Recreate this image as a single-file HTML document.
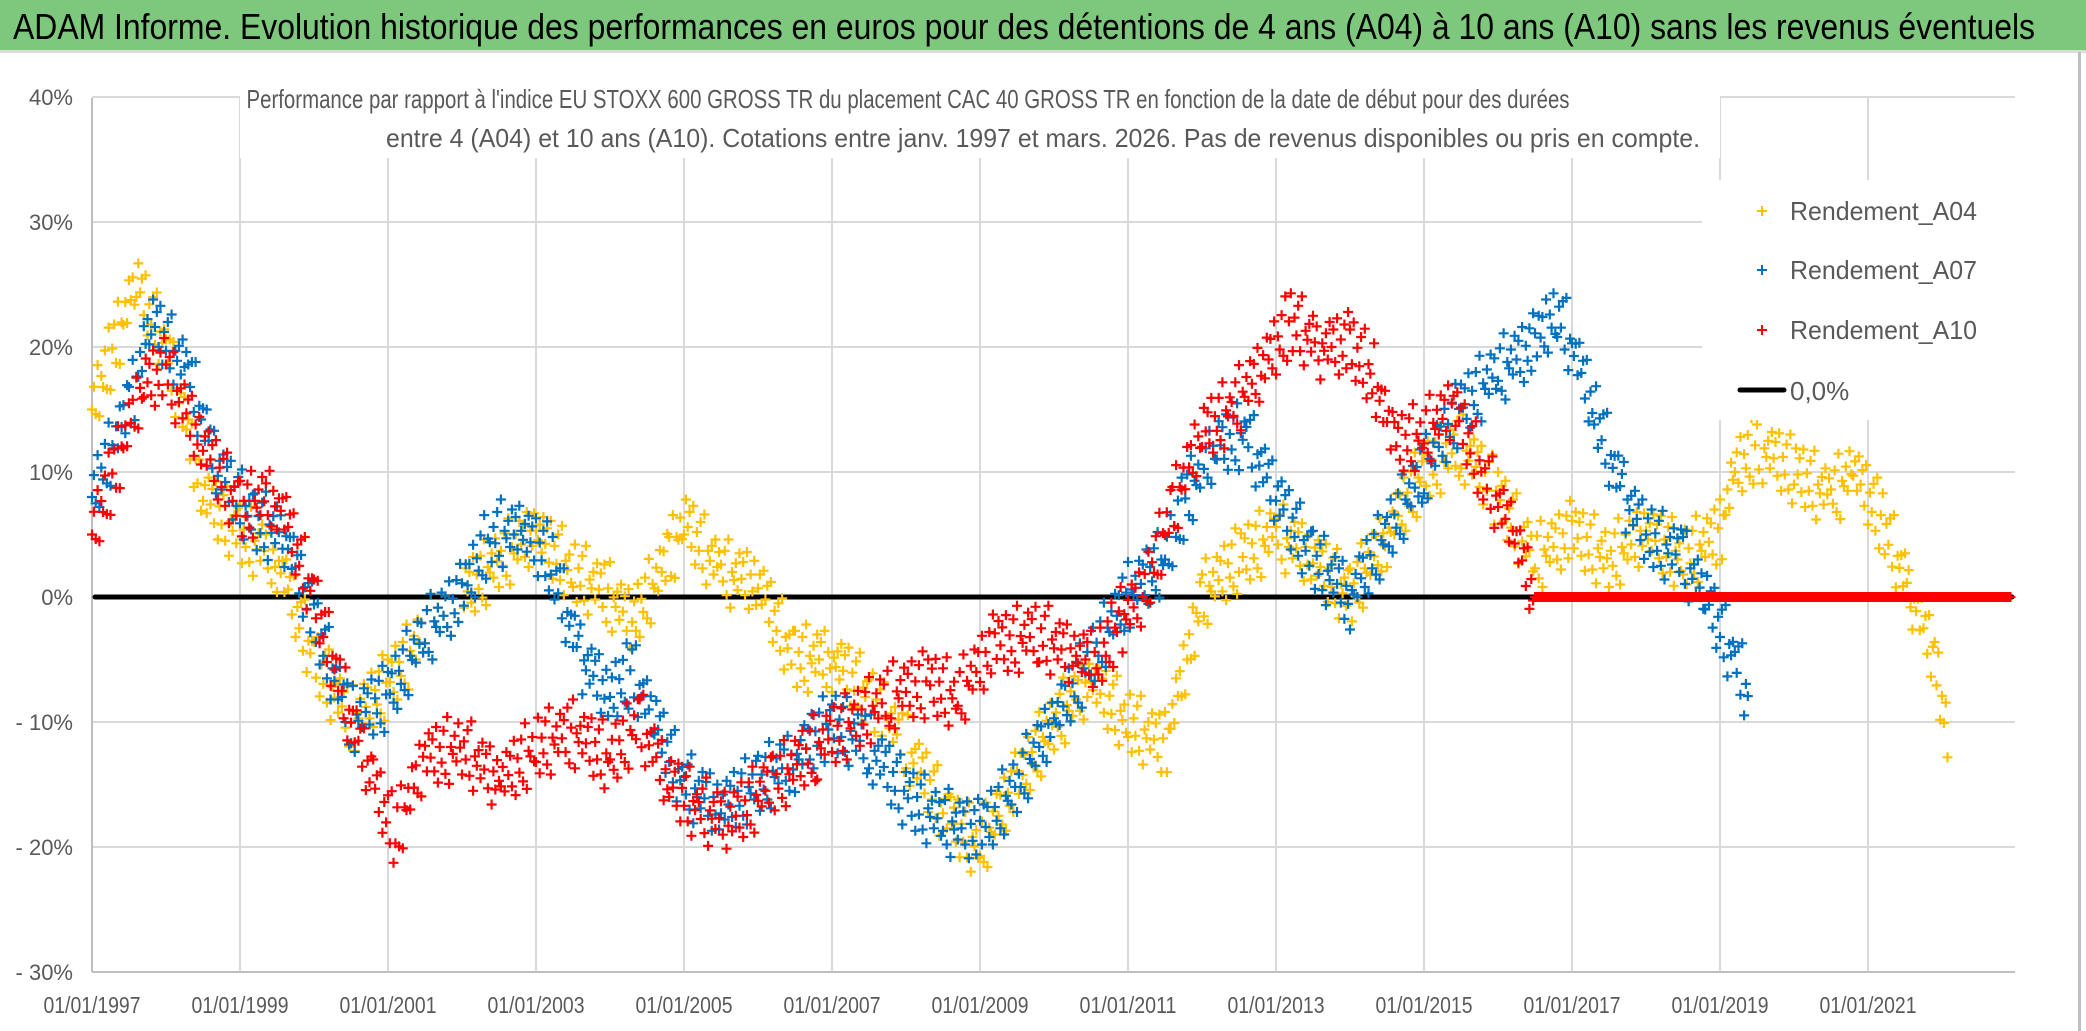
<!DOCTYPE html>
<html><head><meta charset="utf-8"><style>
html,body{margin:0;padding:0;background:#fff}
svg{display:block}
text{font-family:"Liberation Sans",sans-serif}
</style></head><body>
<svg id="chart" width="2086" height="1031" viewBox="0 0 2086 1031" xmlns="http://www.w3.org/2000/svg">
<rect x="0" y="0" width="2086" height="1031" fill="#fff"/>
<rect x="0" y="0" width="2086" height="50" fill="#7DC87D"/>
<rect x="0" y="50" width="2086" height="3" fill="#dcdcdc"/>
<text x="13" y="39" font-size="36" fill="#000" textLength="2022" lengthAdjust="spacingAndGlyphs">ADAM Informe. Evolution historique des performances en euros pour des détentions de 4 ans (A04) à 10 ans (A10) sans les revenus éventuels</text>
<rect x="2078" y="52" width="3" height="979" fill="#bfbfbf"/>
<g id="grid"></g>
<g id="axes"></g>
<g id="marks"></g>
<rect x="240" y="78" width="1480" height="80" fill="#fff"/>
<text x="908" y="108" font-size="26" fill="#595959" text-anchor="middle" textLength="1323" lengthAdjust="spacingAndGlyphs">Performance par rapport à l'indice EU STOXX 600 GROSS TR  du placement CAC 40 GROSS TR en fonction de la date de début pour des durées</text>
<text x="1043" y="147" font-size="26" fill="#595959" text-anchor="middle" textLength="1314" lengthAdjust="spacingAndGlyphs">entre 4 (A04) et 10 ans (A10). Cotations entre janv. 1997 et mars. 2026. Pas de revenus disponibles ou pris en compte.</text>
<g>
<rect x="1702" y="180" width="313" height="240" fill="#fff"/>
<g><path d="M1757 211h10M1762 206v10" stroke="#FFC000" stroke-width="2"/><text x="1790" y="220" font-size="26" fill="#595959" textLength="187" lengthAdjust="spacingAndGlyphs">Rendement_A04</text></g>
<g><path d="M1757 270h10M1762 265v10" stroke="#0070C0" stroke-width="2"/><text x="1790" y="279" font-size="26" fill="#595959" textLength="187" lengthAdjust="spacingAndGlyphs">Rendement_A07</text></g>
<g><path d="M1757 330h10M1762 325v10" stroke="#FF0000" stroke-width="2"/><text x="1790" y="339" font-size="26" fill="#595959" textLength="187" lengthAdjust="spacingAndGlyphs">Rendement_A10</text></g>
<g><path d="M1740 390h44" stroke="#000" stroke-width="5" stroke-linecap="round"/><text x="1790" y="400" font-size="26" fill="#595959">0,0%</text></g>
</g>
</svg>
<script>
const yTicks = [40, 30, 20, 10, 0, -10, -20, -30];
const yTickLabels = ["40%", "30%", "20%", "10%", "0%", "- 10%", "- 20%", "- 30%"];
const xTickYears = [1997, 1999, 2001, 2003, 2005, 2007, 2009, 2011, 2013, 2015, 2017, 2019, 2021];
const xTickLabels = ["01/01/1997","01/01/1999","01/01/2001","01/01/2003","01/01/2005","01/01/2007","01/01/2009","01/01/2011","01/01/2013","01/01/2015","01/01/2017","01/01/2019","01/01/2021"];
const datesA04 = [1997.0,1997.3,1997.6,1998.0,1998.5,1999.0,1999.5,2000.0,2000.5,2001.0,2001.5,2002.0,2002.5,2003.0,2003.5,2004.0,2004.3,2004.8,2005.0,2005.5,2006.0,2006.5,2007.0,2007.5,2008.0,2008.6,2009.0,2009.5,2010.0,2010.5,2011.0,2011.5,2011.8,2012.0,2012.5,2013.0,2013.5,2014.0,2014.5,2015.0,2015.5,2016.0,2016.5,2017.0,2017.5,2018.0,2018.5,2019.0,2019.2,2019.5,2020.0,2020.5,2020.8,2021.2,2021.6,2021.9,2022.1];
const valuesA04 = [15,20,25,20,8,5,3,-5,-10,-7,-3,0,3,5,2,0,-2,3,6,2,1,-5,-5,-8,-12,-18,-20,-15,-10,-7,-10,-12,-5,0,3,5,3,0,5,10,12,8,3,5,3,5,3,5,10,12,10,8,10,6,0,-5,-12];
const datesA07 = [1997.0,1997.5,1997.8,1998.3,1998.7,1999.2,1999.6,2000.0,2000.5,2001.0,2001.5,2002.0,2002.4,2002.8,2003.2,2003.6,2004.0,2004.3,2004.6,2005.0,2005.5,2006.0,2006.5,2007.0,2007.5,2008.0,2008.5,2009.0,2009.5,2010.0,2010.5,2011.0,2011.5,2011.8,2012.2,2012.6,2013.0,2013.5,2014.0,2014.5,2015.0,2015.5,2016.0,2016.5,2016.8,2017.0,2017.3,2017.7,2018.0,2018.5,2018.8,2019.2,2019.4];
const valuesA07 = [8,15,22,18,10,6,5,-2,-10,-8,-3,0,5,5,3,-5,-8,-6,-10,-15,-17,-15,-13,-10,-12,-16,-18,-19,-15,-10,-5,0,3,8,12,13,8,3,0,5,10,15,18,20,23,20,15,8,5,3,0,-5,-8];
const datesA10 = [1997.0,1997.3,1997.7,1998.0,1998.5,1999.0,1999.5,2000.0,2000.4,2000.8,2001.1,2001.5,2002.0,2002.5,2003.0,2003.5,2004.0,2004.4,2004.8,2005.2,2005.6,2006.2,2006.8,2007.3,2007.8,2008.3,2008.7,2009.2,2009.8,2010.3,2010.6,2010.9,2011.2,2011.6,2012.0,2012.4,2012.8,2013.2,2013.6,2014.0,2014.3,2014.6,2015.0,2015.4,2015.8,2016.2,2016.5,2017.0,2017.5,2018.0,2018.5,2019.0,2019.5,2020.0,2020.5,2021.0,2021.5,2022.0,2022.5,2022.95];
const valuesA10 = [5,10,17,18,12,7,8,0,-8,-15,-19,-13,-12,-15,-12,-11,-13,-10,-15,-17,-18,-15,-12,-10,-8,-7,-8,-4,-3,-5,-5,-2,0,7,13,15,18,22,20,20,18,12,13,15,10,5,0,0,0,0,0,0,0,0,0,0,0,0,0,0];

const X0 = 92, PX_PER_YEAR = 74, Y0 = 597, PX_PER_PCT = 12.5, XMAX = 2015, YTOP = 98, YBOT = 972;
function xScale(year){ return X0 + (year - 1997) * PX_PER_YEAR; }
function yScale(v){ return Y0 - v * PX_PER_PCT; }
const NS = "http://www.w3.org/2000/svg";
function mk(tag, attrs, parent){ const e = document.createElementNS(NS, tag); for (const k in attrs) e.setAttribute(k, attrs[k]); parent.appendChild(e); return e; }
const grid = document.getElementById('grid'), axes = document.getElementById('axes'), marks = document.getElementById('marks');

yTicks.forEach((t, i) => {
  const y = yScale(t);
  const gl = mk('line', {x1: X0, x2: XMAX, y1: y, y2: y, stroke: '#d9d9d9', 'stroke-width': 2}, grid);
  
  
  const lb = mk('text', {x: 73, y: y + 8, 'font-size': 22, fill: '#595959', 'text-anchor': 'end'}, axes);
  lb.textContent = yTickLabels[i];
  
  
});
xTickYears.forEach((yr, i) => {
  const x = xScale(yr);
  if (i > 0) {
    const gl = mk('line', {x1: x, x2: x, y1: YTOP, y2: YBOT, stroke: '#d9d9d9', 'stroke-width': 2}, grid);
    
    
  }
  const lb = mk('text', {x: x, y: 1013, 'font-size': 23, fill: '#595959', 'text-anchor': 'middle', textLength: 97, lengthAdjust: 'spacingAndGlyphs'}, axes);
  lb.textContent = xTickLabels[i];
  
  
});
const yAxis = mk('line', {x1: X0, x2: X0, y1: YTOP, y2: YBOT, stroke: '#bfbfbf', 'stroke-width': 2}, axes);


const xAxis = mk('line', {x1: X0, x2: XMAX, y1: YBOT, y2: YBOT, stroke: '#bfbfbf', 'stroke-width': 2}, axes);



const zl = mk('line', {x1: X0 + 3, x2: XMAX - 3, y1: yScale(0), y2: yScale(0), stroke: '#000', 'stroke-width': 5, 'stroke-linecap': 'round'}, marks);



// each segment between data points drawn as a band of '+' markers (fixed jitter pattern)
const jit = [0,1.4,-1.2,2.3,-2.2,0.6,-0.7,1.8,-1.7,2.8,-2.6,0.3,-0.3,1.1,-1.0,2.0];
function drawSeries(dates, vals, color, name){
  const g = mk('g', {stroke: color, 'stroke-width': 2.2, fill: 'none'}, marks);
  
  
  let d = '';
  for (let i = 0; i < dates.length - 1; i++) {
    const span = dates[i+1] - dates[i];
    const steps = Math.max(4, Math.round(span * 40));
    for (let s = 0; s < steps; s++) {
      const f = s / steps;
      const yr = dates[i] + span * f;
      const base = vals[i] + (vals[i+1] - vals[i]) * f;
      const flat = (vals[i] === 0 && vals[i+1] === 0);
      const j = flat ? 0 : jit[(i * 7 + s) % jit.length];
      const x = xScale(yr), y = yScale(base + j);
      d += `M${(x-5).toFixed(1)} ${y.toFixed(1)}h10M${x.toFixed(1)} ${(y-5).toFixed(1)}v10`;
    }
  }
  const p = mk('path', {d: d}, g);
  
  
}
drawSeries(datesA04, valuesA04, '#FFC000', 'series-rendement-a04');
drawSeries(datesA07, valuesA07, '#0070C0', 'series-rendement-a07');
drawSeries(datesA10, valuesA10, '#FF0000', 'series-rendement-a10');
</script>
</body></html>
